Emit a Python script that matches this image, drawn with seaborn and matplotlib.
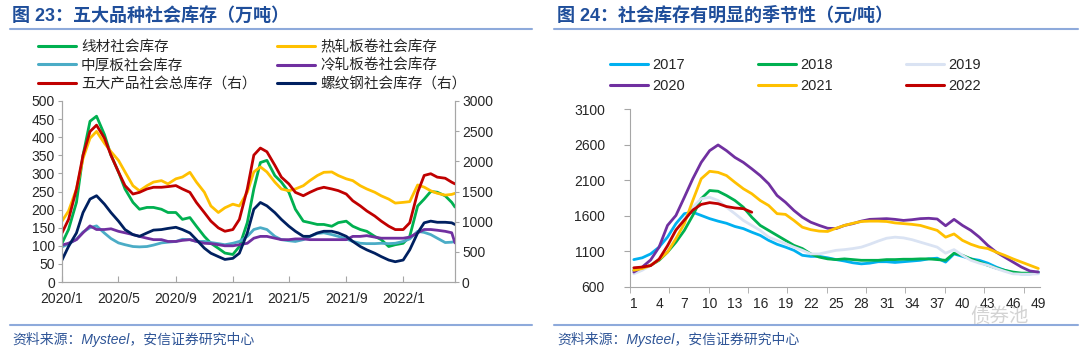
import matplotlib
matplotlib.use('Agg')
import matplotlib.pyplot as plt
import matplotlib.dates as mdates
from matplotlib.lines import Line2D
import seaborn as sns
import pandas as pd
import numpy as np

sns.set_style('white')
plt.rcParams['font.family'] = ['Liberation Sans', 'Noto Sans CJK SC', 'DejaVu Sans']
plt.rcParams['axes.unicode_minus'] = False

# ---- figure 23: five products social inventory (semi-monthly readings) ----
dates = list(pd.date_range('2020-01-01', '2022-04-15', freq='SMS')) + [pd.Timestamp('2022-04-22')]

wire_rod = [107, 145, 220, 350, 444, 458, 407, 350, 304, 257, 220, 201, 206, 206, 201, 192, 192, 173, 178, 154, 126, 107, 93, 80,
            76, 98, 164, 257, 330, 336, 294, 276, 248, 201, 168, 164, 159, 159, 154, 164, 168, 154, 145, 140, 126, 117, 98, 103,
            107, 126, 210, 229, 250, 248, 238, 220, 207]
hot_rolled = [168, 196, 257, 341, 397, 416, 383, 360, 336, 304, 266, 252, 266, 276, 280, 271, 285, 290, 303, 276, 248, 210, 192, 205,
              215, 210, 248, 304, 318, 304, 276, 257, 252, 257, 266, 280, 294, 303, 304, 294, 285, 280, 266, 257, 248, 238, 229, 218,
              220, 222, 268, 262, 252, 245, 240, 242, 245]
plate = [97, 105, 118, 138, 150, 155, 135, 120, 108, 103, 98, 97, 98, 102, 108, 110, 112, 118, 117, 112, 112, 109, 106, 103,
         107, 112, 126, 145, 150, 145, 126, 117, 114, 112, 117, 126, 134, 136, 131, 126, 119, 112, 107, 106, 106, 107, 106, 107,
         112, 119, 140, 137, 131, 121, 109, 110, 112]
cold_rolled = [102, 107, 117, 136, 155, 145, 145, 147, 140, 136, 131, 126, 121, 117, 117, 112, 112, 115, 117, 112, 107, 106, 103, 100,
               100, 103, 107, 121, 126, 126, 121, 117, 117, 119, 119, 117, 117, 117, 117, 117, 117, 126, 126, 128, 124, 121, 121, 121,
               121, 124, 136, 145, 145, 143, 140, 136, 108]
total_stock = [813, 1037, 1540, 2100, 2494, 2600, 2383, 2100, 1823, 1598, 1458, 1486, 1542, 1570, 1570, 1581, 1598, 1542, 1486, 1318, 1150, 1009, 897, 841,
               869, 1037, 1542, 2103, 2220, 2159, 1935, 1738, 1626, 1486, 1430, 1486, 1542, 1570, 1542, 1514, 1458, 1346, 1262, 1178, 1094, 1009, 925, 869,
               869, 981, 1486, 1766, 1795, 1738, 1720, 1654, 1626]
rebar = [364, 589, 813, 1150, 1374, 1430, 1290, 1150, 1009, 869, 785, 757, 813, 860, 869, 888, 907, 869, 813, 701, 561, 477, 421, 374,
         392, 477, 813, 1206, 1318, 1262, 1150, 1037, 925, 841, 757, 757, 813, 841, 841, 813, 757, 673, 589, 533, 477, 421, 364, 336,
         364, 533, 813, 981, 1009, 990, 990, 981, 953]

left_names = ['线材社会库存', '热轧板卷社会库存', '中厚板社会库存', '冷轧板卷社会库存']
right_names = ['五大产品社会总库存（右）', '螺纹钢社会库存（右）']
colors23 = {'线材社会库存': '#00b050', '热轧板卷社会库存': '#ffc000', '中厚板社会库存': '#4bacc6',
            '冷轧板卷社会库存': '#7030a0', '五大产品社会总库存（右）': '#c00000', '螺纹钢社会库存（右）': '#002060'}

df_l = pd.DataFrame({'date': dates * 4,
                     'value': wire_rod + hot_rolled + plate + cold_rolled,
                     'series': np.repeat(left_names, len(dates))})
df_r = pd.DataFrame({'date': dates * 2,
                     'value': total_stock + rebar,
                     'series': np.repeat(right_names, len(dates))})

# ---- figure 24: seasonal social inventory by week ----
weeks = list(range(1, 50))
y2017 = [985, 1010, 1065, 1160, 1300, 1490, 1630, 1650, 1605, 1560, 1525, 1495, 1450, 1420, 1370, 1325, 1255, 1200, 1160, 1115,
         1045, 1030, 1030, 1010, 985, 965, 940, 925, 935, 955, 955, 945, 955, 965, 975, 995, 1005, 950, 1065, 1030,
         995, 975, 935, 880, 835, 795, 785, 785, 795]
y2018 = [835, 860, 905, 975, 1090, 1230, 1395, 1605, 1840, 1955, 1945, 1885, 1815, 1720, 1580, 1465, 1395, 1325, 1255, 1185,
         1140, 1065, 1020, 995, 985, 995, 985, 975, 975, 975, 985, 985, 990, 990, 995, 995, 985, 975, 1075, 1045,
         995, 950, 905, 865, 835, 810, 795, 795, 810]
y2019 = [785, 835, 905, 995, 1160, 1395, 1560, 1720, 1840, 1860, 1815, 1720, 1630, 1535, 1465, 1395, 1300, 1255, 1210, 1160,
         1115, 1065, 1065, 1090, 1115, 1125, 1140, 1160, 1200, 1245, 1285, 1300, 1290, 1265, 1230, 1195, 1160, 1075, 1125, 1045,
         975, 935, 905, 860, 820, 785, 780, 780, 785]
y2020 = [810, 880, 980, 1160, 1465, 1605, 1860, 2120, 2350, 2515, 2595, 2515, 2420, 2350, 2260, 2165, 2050, 1885, 1790, 1675,
         1580, 1510, 1465, 1425, 1420, 1465, 1490, 1525, 1550, 1555, 1560, 1550, 1535, 1545, 1560, 1565, 1555, 1460, 1550, 1465,
         1395, 1300, 1185, 1090, 1020, 950, 880, 825, 810]
y2021 = [835, 860, 905, 985, 1090, 1280, 1490, 1815, 2120, 2225, 2210, 2165, 2070, 1980, 1910, 1815, 1745, 1630, 1620, 1535,
         1440, 1405, 1385, 1380, 1425, 1465, 1495, 1520, 1525, 1525, 1520, 1500, 1490, 1480, 1465, 1430, 1395, 1300, 1345, 1255,
         1200, 1160, 1140, 1090, 1045, 995, 950, 905, 860]
y2022 = [870, 880, 900, 990, 1180, 1400, 1540, 1680, 1760, 1785, 1770, 1730, 1710, 1700, 1650]

years = ['2017', '2018', '2019', '2020', '2021', '2022']
colors24 = {'2017': '#00b0f0', '2018': '#00b050', '2019': '#dae3f3',
            '2020': '#7030a0', '2021': '#ffc000', '2022': '#c00000'}
season = pd.concat([pd.DataFrame({'week': weeks[:len(v)], 'value': v, 'year': y})
                    for y, v in zip(years, [y2017, y2018, y2019, y2020, y2021, y2022])])

title_color = '#1f4e9a'
axis_color = '#a6a6a6'
lw = 2.0

fig = plt.figure(figsize=(10.8, 3.56), dpi=100)

# titles, rules, sources
fig.text(12 / 1080, 1 - 16 / 356, '图 23：五大品种社会库存（万吨）', fontsize=13, fontweight='bold',
         color=title_color, va='center', ha='left')
fig.text(557 / 1080, 1 - 16 / 356, '图 24：社会库存有明显的季节性（元/吨）', fontsize=13, fontweight='bold',
         color=title_color, va='center', ha='left')
for x0, x1 in [(10, 532), (554, 1078)]:
    for yy in (29, 325):
        fig.add_artist(Line2D([x0 / 1080, x1 / 1080], [1 - yy / 356] * 2, color='#8eaadb', lw=1.5))
for x0 in (12, 557):
    fig.text(x0 / 1080, 1 - 339 / 356, '资料来源：Mysteel，安信证券研究中心', fontsize=10, style='italic',
             color='#2f5597', va='center', ha='left')

# left chart
ax = fig.add_axes([62 / 1080, 1 - 282 / 356, 393 / 1080, 181 / 356])
ax2 = ax.twinx()
sns.lineplot(data=df_l, x='date', y='value', hue='series', hue_order=left_names, palette=colors23,
             lw=lw, ax=ax, legend=False)
sns.lineplot(data=df_r, x='date', y='value', hue='series', hue_order=right_names, palette=colors23,
             lw=lw, ax=ax2, legend=False)
ax.set_xlim(pd.Timestamp('2020-01-01'), pd.Timestamp('2022-04-22'))
ax.set_ylim(0, 500)
ax.set_yticks(range(0, 501, 50))
ax2.set_ylim(0, 3000)
ax2.set_yticks(range(0, 3001, 500))
ax.xaxis.set_major_locator(mdates.MonthLocator(bymonth=[1, 5, 9]))
ax.xaxis.set_major_formatter(plt.FuncFormatter(lambda v, p: f'{mdates.num2date(v).year}/{mdates.num2date(v).month}'))
for a in (ax, ax2):
    a.set_xlabel('')
    a.set_ylabel('')
    for s in a.spines.values():
        s.set_color(axis_color)
    a.spines['top'].set_visible(False)
ax.tick_params(axis='y', labelsize=10, length=3, color=axis_color, left=True, pad=2)
ax.tick_params(axis='x', labelsize=10, length=4, color=axis_color, direction='in', bottom=True, pad=7)
ax2.tick_params(axis='y', labelsize=10, length=3, color=axis_color, right=True, pad=2)

order23 = ['线材社会库存', '中厚板社会库存', '五大产品社会总库存（右）',
           '热轧板卷社会库存', '冷轧板卷社会库存', '螺纹钢社会库存（右）']
handles = [Line2D([], [], color=colors23[n], lw=2.2) for n in order23]
fig.legend(handles, order23, ncol=2, loc='upper left', bbox_to_anchor=(38 / 1080, 1 - 40 / 356),
           frameon=False, fontsize=10.5, handlelength=2.6, handletextpad=0.35, columnspacing=1.4,
           labelspacing=0.3, borderaxespad=0, borderpad=0)

# right chart
bx = fig.add_axes([630 / 1080, 1 - 287 / 356, 410 / 1080, 178 / 356])
sns.lineplot(data=season, x='week', y='value', hue='year', hue_order=years, palette=colors24,
             lw=lw, ax=bx, legend=False)
bx.set_xlim(0.55, 49.2)
bx.set_ylim(600, 3100)
bx.set_yticks(range(600, 3101, 500))
bx.set_xticks(range(1, 50, 3))
bx.set_xticks(np.arange(0.55, 49.3, 4.67), minor=True)
bx.set_xlabel('')
bx.set_ylabel('')
for s in ['top', 'right']:
    bx.spines[s].set_visible(False)
for s in ['left', 'bottom']:
    bx.spines[s].set_color(axis_color)
bx.tick_params(axis='x', which='major', length=0, labelsize=10, pad=7)
bx.tick_params(axis='x', which='minor', length=4, color=axis_color, bottom=True)
bx.tick_params(axis='y', length=4, color=axis_color, left=True, labelsize=10, pad=14)

order24 = ['2017', '2020', '2018', '2021', '2019', '2022']
handles = [Line2D([], [], color=colors24[y], lw=2.2) for y in order24]
fig.legend(handles, order24, ncol=3, loc='upper left', bbox_to_anchor=(610 / 1080, 1 - 58 / 356),
           frameon=False, fontsize=10.5, handlelength=2.6, handletextpad=0.3, columnspacing=5.0,
           labelspacing=0.5, borderaxespad=0, borderpad=0)

# watermark
fig.text(1000 / 1080, 1 - 317 / 356, '债券池', fontsize=14, color='#c8c8c8', alpha=0.8,
         ha='center', va='center')

fig.savefig('out.png', dpi=100)
